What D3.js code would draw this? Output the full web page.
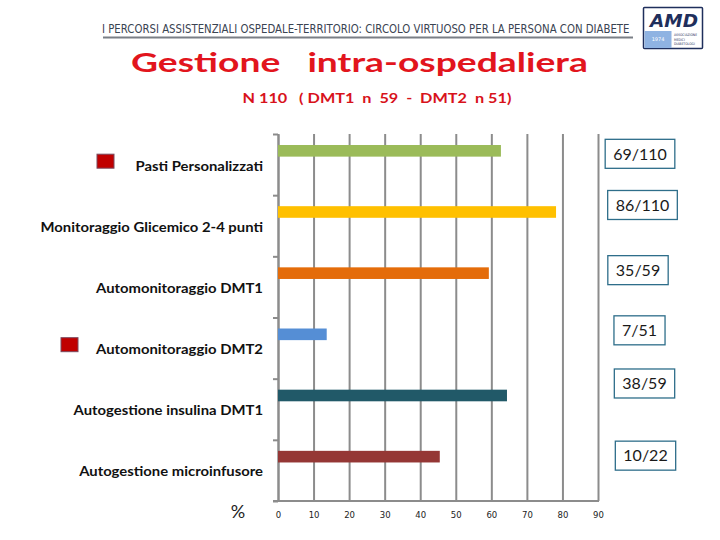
<!DOCTYPE html>
<html>
<head>
<meta charset="utf-8">
<script src="https://cdn.jsdelivr.net/npm/d3@7/dist/d3.min.js"></script>
<style>
  html, body { margin: 0; padding: 0; background: #fff; }
  svg { display: block; }
</style>
</head>
<body>
<svg id="chart" width="720" height="540"></svg>
<script>
// ---- data ----
const categories = [
  "Pasti Personalizzati",
  "Monitoraggio Glicemico 2-4 punti",
  "Automonitoraggio DMT1",
  "Automonitoraggio DMT2",
  "Autogestione insulina DMT1",
  "Autogestione microinfusore"
];
const percentValues = [62.7, 78.2, 59.3, 13.7, 64.4, 45.5];
const countLabels = ["69/110", "86/110", "35/59", "7/51", "38/59", "10/22"];
const barColors = ["#9BBB59", "#FFC000", "#E46C0A", "#558ED5", "#215968", "#953735"];
const markedCategories = ["Pasti Personalizzati", "Automonitoraggio DMT2"];
const xTicks = [0, 10, 20, 30, 40, 50, 60, 70, 80, 90];
const headerText = "I PERCORSI ASSISTENZIALI OSPEDALE-TERRITORIO: CIRCOLO VIRTUOSO PER LA PERSONA CON DIABETE";
const titleText = "Gestione\u00a0\u00a0\u00a0intra-ospedaliera";
const subtitleText = "N 110\u00a0\u00a0\u00a0(\u00a0DMT1\u00a0\u00a0n\u00a0\u00a059\u00a0\u00a0-\u00a0\u00a0DMT2\u00a0\u00a0n\u00a051)";

// ---- layout ----
const svg = d3.select("#chart");
const plot = { left: 278, right: 598, top: 134, bottom: 501 };
const gridColor = "#8c8c8c";

// place text with its left edge at x0 and stretch it horizontally to a given width
function fitText(parent, str, x0, baseline, width, style) {
  const g = parent.append("g");
  const t = g.append("text").attr("x", 0).attr("y", 0);
  Object.entries(style).forEach(([k, v]) => t.style(k, v));
  t.text(str);
  const w = t.node().getComputedTextLength();
  g.attr("transform", `translate(${x0},${baseline}) scale(${width / w},1)`);
  return t;
}

const x = d3.scaleLinear().domain([0, 90]).range([plot.left, plot.right]);
const y = d3.scaleBand().domain(categories).range([plot.top, plot.bottom]).padding(0);
const yEdges = d3.scaleLinear().domain([0, categories.length]).range([plot.top, plot.bottom]);

// header banner
fitText(svg, headerText, 102, 32.5, 528, {
  "font-family": "'DejaVu Sans', sans-serif", "font-size": "11.5px", "fill": "#3a4452"
});
svg.append("line")
  .attr("x1", 103).attr("x2", 633).attr("y1", 37.5).attr("y2", 37.5)
  .attr("stroke", "#7a7f86").attr("stroke-width", 2);

// logo
const logo = svg.append("g");
logo.append("rect").attr("x", 643.5).attr("y", 7.5).attr("width", 59).attr("height", 41)
  .attr("fill", "#fff").attr("stroke", "#1f2f5c").attr("stroke-width", 1.5).attr("rx", 1);
fitText(logo, "AMD", 650, 27, 48, {
  "font-family": "'DejaVu Sans', sans-serif", "font-weight": "bold", "font-style": "italic",
  "font-size": "17px", "fill": "#1f2f5c"
});
logo.append("rect").attr("x", 644.5).attr("y", 31).attr("width", 27).attr("height", 17)
  .attr("fill", "#8fb3e2");
logo.append("text").attr("x", 658).attr("y", 41).attr("text-anchor", "middle")
  .style("font-family", "'DejaVu Sans', sans-serif").style("font-size", "5px").style("fill", "#fff")
  .text("1974");
["ASSOCIAZIONE", "MEDICI", "DIABETOLOGI"].forEach((t, i) => {
  logo.append("text").attr("x", 674).attr("y", 36 + i * 4.5)
    .style("font-family", "'DejaVu Sans Condensed', sans-serif").style("font-size", "3.4px")
    .style("fill", "#1f2f5c").text(t);
});

// title + subtitle
fitText(svg, titleText, 131, 72, 457, {
  "font-family": "Lato, sans-serif", "font-weight": "bold", "font-size": "27px", "fill": "#E2151D"
});
fitText(svg, subtitleText, 242.5, 102.5, 269, {
  "font-family": "Lato, sans-serif", "font-weight": "bold", "font-size": "12.8px", "fill": "#D8121B"
});

// gridlines (vertical)
const gx = svg.append("g")
  .attr("transform", `translate(0,${plot.bottom})`)
  .call(d3.axisBottom(x).tickValues(xTicks).tickSize(-(plot.bottom - plot.top)).tickSizeOuter(0).tickFormat(""));
gx.select(".domain").remove();
gx.selectAll(".tick line").attr("stroke", gridColor).attr("stroke-width", 2);

// x axis domain line
svg.append("line")
  .attr("x1", plot.left - 5).attr("x2", plot.right + 1)
  .attr("y1", plot.bottom).attr("y2", plot.bottom)
  .attr("stroke", gridColor).attr("stroke-width", 2);

// x tick labels
const xl = svg.append("g")
  .attr("transform", `translate(0,${plot.bottom + 11})`)
  .call(d3.axisBottom(x).tickValues(xTicks).tickSize(0).tickPadding(0));
xl.select(".domain").remove();
xl.selectAll(".tick text")
  .style("font-family", "'DejaVu Sans', sans-serif").style("font-size", "8.5px").style("fill", "#222");

// left axis with boundary ticks
const gy = svg.append("g")
  .attr("transform", `translate(${plot.left},0)`)
  .call(d3.axisLeft(yEdges).ticks(categories.length).tickSize(5).tickSizeOuter(0).tickFormat(""));
gy.select(".domain").attr("stroke", gridColor).attr("stroke-width", 2);
gy.selectAll(".tick line").attr("stroke", gridColor).attr("stroke-width", 2);

// bars
svg.append("g").selectAll("rect")
  .data(categories)
  .join("rect")
  .attr("x", x(0))
  .attr("y", d => y(d) + y.bandwidth() * 0.18)
  .attr("width", (d, i) => x(percentValues[i]) - x(0))
  .attr("height", y.bandwidth() * 0.19)
  .attr("fill", (d, i) => barColors[i]);

// category labels (slightly widened like the source)
svg.append("g").selectAll("g")
  .data(categories)
  .join("g")
  .attr("transform", d => `translate(263,${y(d) + y.bandwidth() * 0.52}) scale(1.1,1)`)
  .append("text")
  .attr("dy", "0.35em")
  .attr("text-anchor", "end")
  .style("font-family", "Lato, sans-serif").style("font-weight", "bold")
  .style("font-size", "13.5px").style("fill", "#111")
  .text(d => d);

// red marker squares
const markerX = { "Pasti Personalizzati": 97, "Automonitoraggio DMT2": 61 };
svg.append("g").selectAll("rect")
  .data(markedCategories)
  .join("rect")
  .attr("x", d => markerX[d])
  .attr("y", d => y(d) + y.bandwidth() * 0.33)
  .attr("width", 17).attr("height", 14)
  .attr("fill", "#C00000").attr("stroke", "#7a4a5e").attr("stroke-width", 1);

// count label boxes
const boxNudge = [[-1, 3], [1.5, -7], [-3, -3], [-1.5, -4], [3.5, -12], [4.5, -1]];
const boxes = svg.append("g").selectAll("g")
  .data(categories)
  .join("g")
  .attr("transform", (d, i) =>
    `translate(${641 + boxNudge[i][0]},${y(d) + y.bandwidth() * 0.275 + boxNudge[i][1]})`);
boxes.append("rect");
boxes.append("text")
  .attr("text-anchor", "middle").attr("dy", "0.36em")
  .style("font-family", "Lato, sans-serif").style("font-size", "16px").style("fill", "#1a1a1a")
  .text((d, i) => countLabels[i]);
boxes.each(function() {
  const g = d3.select(this);
  const w = g.select("text").node().getComputedTextLength() + 16;
  g.select("rect")
    .attr("x", -w / 2).attr("y", -14.5).attr("width", w).attr("height", 29)
    .attr("fill", "#fff").attr("stroke", "#2E6E8A").attr("stroke-width", 1.3);
});

// % label
svg.append("text")
  .attr("x", 238).attr("y", 512).attr("dy", "0.35em").attr("text-anchor", "middle")
  .style("font-family", "Lato, sans-serif").style("font-size", "18px").style("fill", "#222")
  .text("%");
</script>
</body>
</html>
